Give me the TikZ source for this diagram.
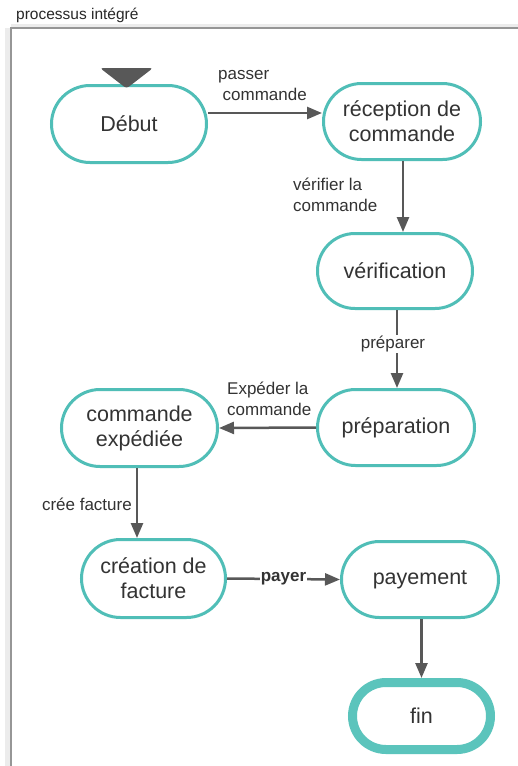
\documentclass[tikz,border=0pt]{standalone}
\usepackage{fontspec}
\setmainfont{Liberation Sans}
\usetikzlibrary{shapes.misc,arrows.meta}

\definecolor{flowteal}{RGB}{80,190,183}
\definecolor{finteal}{RGB}{91,196,188}
\definecolor{arrowgray}{RGB}{88,88,88}
\definecolor{textgray}{RGB}{51,51,51}
\definecolor{framegray}{RGB}{150,150,150}
\definecolor{frameshade}{RGB}{236,236,236}

\tikzset{
  stepnode/.style={rounded rectangle, draw=flowteal, line width=3pt, fill=white,
    text=textgray, font=\fontsize{21.5}{25}\selectfont, align=center, inner sep=0pt},
  endnode/.style={stepnode, draw=finteal, line width=9pt},
  flow/.style={draw=arrowgray, line width=2.5pt, -{Triangle[length=15pt,width=12pt]}},
  lbl/.style={text=textgray, font=\fontsize{17}{21}\selectfont, inner sep=0pt},
  onlinelbl/.style={lbl, fill=white, inner sep=1pt},
}

\begin{document}
\begin{tikzpicture}[x=1pt,y=-1pt]
  \useasboundingbox (0,0) rectangle (518,766);
  \fill[white] (0,0) rectangle (518,766);

  % swimlane frame and title
  \fill[frameshade] (5,28) rectangle (10,766);
  \fill[frameshade] (11,24) rectangle (518,27);
  \draw[framegray, line width=1.5pt] (11,766) -- (11,28) -- (518,28);
  \node[anchor=base west, inner sep=0pt, text={rgb,255:red,40;green,40;blue,40},
        font=\fontsize{15.5}{18}\selectfont] (title) at (16,19.5) {processus intégré};

  % process steps
  \node[stepnode, minimum width=155pt, minimum height=77pt] (debut) at (129,124) {Début};
  \node[stepnode, minimum width=157pt, minimum height=76pt] (recep) at (402,121.5) {réception de\\commande};
  \node[stepnode, minimum width=155pt, minimum height=75pt] (verif) at (395,271) {vérification};
  \node[stepnode, minimum width=157pt, minimum height=76pt] (prep) at (396,427.5) {préparation};
  \node[stepnode, minimum width=156pt, minimum height=77pt] (exped) at (139.5,428) {commande\\expédiée};
  \node[stepnode, minimum width=144pt, minimum height=78pt] (creat) at (153.5,578.5) {création de\\facture};
  \node[stepnode, minimum width=157pt, minimum height=76pt] (paye) at (420,579.5) {payement};
  \node[endnode, minimum width=138pt, minimum height=67pt] (fin) at (421.5,716) {fin};

  % start marker
  \fill[arrowgray, rounded corners=3pt] (100,68) -- (153,68) -- (126.5,88.5) -- cycle;

  % connectors
  \draw[flow] ([yshift=11pt]debut.east) -- ([yshift=8.5pt]recep.west);
  \node[lbl, align=left, anchor=west] (lpasser) at (218,85.5) {passer\\\hspace*{4.5pt}commande};

  \draw[flow] ([xshift=1pt]recep.south) -- ([xshift=8pt]verif.north);
  \node[lbl, align=left, anchor=west] (lverif) at (293,194.5) {vérifier la\\commande};

  \draw[flow] ([xshift=2pt]verif.south) -- ([xshift=1pt]prep.north)
    node[onlinelbl, pos=0.44, xshift=-4pt] (lprep) {préparer};

  \draw[flow] (prep.west) -- (exped.east);
  \node[lbl, align=left, anchor=west] (lexped) at (227,398.5) {Expéder la\\commande};

  \draw[flow] ([xshift=-2.5pt]exped.south) -- ([xshift=-16.5pt]creat.north);
  \node[lbl, anchor=east] (lcree) at (132,504) {crée facture};

  \draw[flow] (creat.east) -- (paye.west)
    node[onlinelbl, midway, inner sep=0.5pt, font=\fontsize{17}{21}\selectfont\bfseries] (lpayer) {payer};

  \draw[flow] ([xshift=1.5pt]paye.south) -- (fin.north);
\end{tikzpicture}
\end{document}
